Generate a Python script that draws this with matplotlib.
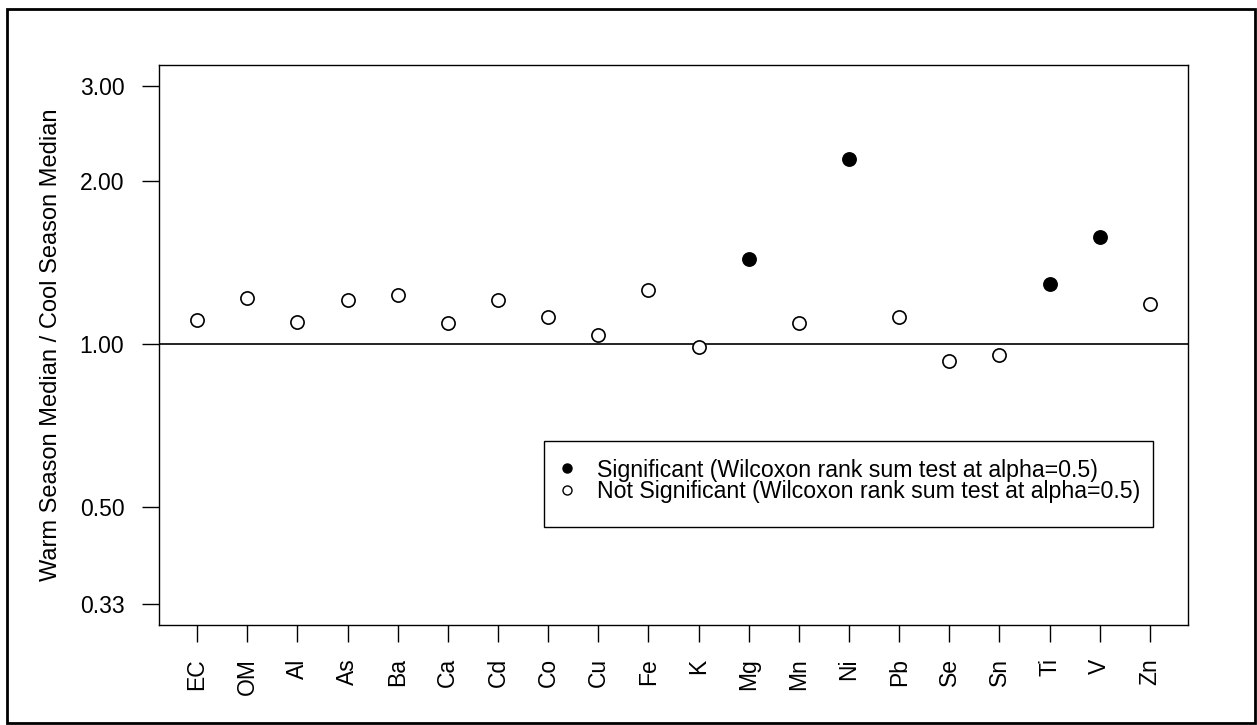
import matplotlib
matplotlib.use("Agg")
from matplotlib import pyplot as plt
from matplotlib.lines import Line2D
from matplotlib.patches import Rectangle
from matplotlib.ticker import FixedLocator, NullLocator

plt.rcParams['font.family'] = ['Liberation Sans', 'DejaVu Sans']

species = ["EC", "OM", "Al", "As", "Ba", "Ca", "Cd", "Co", "Cu", "Fe",
           "K", "Mg", "Mn", "Ni", "Pb", "Se", "Sn", "Ti", "V", "Zn"]
ratio = [1.105, 1.217, 1.097, 1.206, 1.232, 1.091, 1.208, 1.121, 1.038, 1.256,
         0.986, 1.435, 1.091, 2.20, 1.121, 0.930, 0.954, 1.288, 1.578, 1.186]
significant = [False, False, False, False, False, False, False, False, False, False,
               False, True, False, True, False, False, False, True, True, False]
y_ticks = [0.33, 0.5, 1.0, 2.0, 3.0]

fig = plt.figure(figsize=(12.57, 7.25), dpi=100)
ax = fig.add_axes([0.1265, 0.1379, 0.8186, 0.7724])

x = list(range(1, len(species) + 1))
for xi, yi, sig in zip(x, ratio, significant):
    ax.plot(xi, yi, "o", markersize=9.5, markeredgecolor="black",
            markerfacecolor="black" if sig else "white", markeredgewidth=1.2)

ax.axhline(1.0, color="black", linewidth=1.2, zorder=0)

ax.set_yscale("log")
ax.set_ylim(0.302, 3.28)
ax.set_xlim(0.24, 20.76)
ax.yaxis.set_major_locator(FixedLocator(y_ticks))
ax.yaxis.set_minor_locator(NullLocator())
ax.set_yticklabels(["%.2f" % v for v in y_ticks])
ax.set_xticks(x)
ax.set_xticklabels(species, rotation=90)

ax.tick_params(axis="both", direction="out", length=12, width=1.0,
               labelsize=16.5, color="black")
ax.tick_params(axis="y", pad=13)
ax.tick_params(axis="x", pad=12)
for s in ax.spines.values():
    s.set_linewidth(1.0)

ax.set_ylabel("Warm Season Median / Cool Season Median", fontsize=17, labelpad=13)

# legend: entries without frame, box drawn separately (R-style padding)
handles = [
    Line2D([], [], marker="o", linestyle="none", markersize=6.5,
           markerfacecolor="black", markeredgecolor="black"),
    Line2D([], [], marker="o", linestyle="none", markersize=6.5,
           markerfacecolor="white", markeredgecolor="black"),
]
labels = ["Significant (Wilcoxon rank sum test at alpha=0.5)",
          "Not Significant (Wilcoxon rank sum test at alpha=0.5)"]
leg = ax.legend(handles, labels, loc="upper left", bbox_to_anchor=(0.3741, 0.318),
                frameon=False, fontsize=16.7, handlelength=1.0, handletextpad=0.79,
                labelspacing=-0.08, borderpad=0.5, borderaxespad=0)
ax.add_patch(Rectangle((0.3741, 0.175), 0.966 - 0.3741, 0.3286 - 0.175,
                       transform=ax.transAxes, fill=False, edgecolor="black",
                       linewidth=1.0, zorder=5))

fig.patches.append(Rectangle((0.0056, 0.0028), 0.9928, 0.9848, transform=fig.transFigure,
                             fill=False, edgecolor="black", linewidth=2))

fig.savefig("out.png", dpi=100)
